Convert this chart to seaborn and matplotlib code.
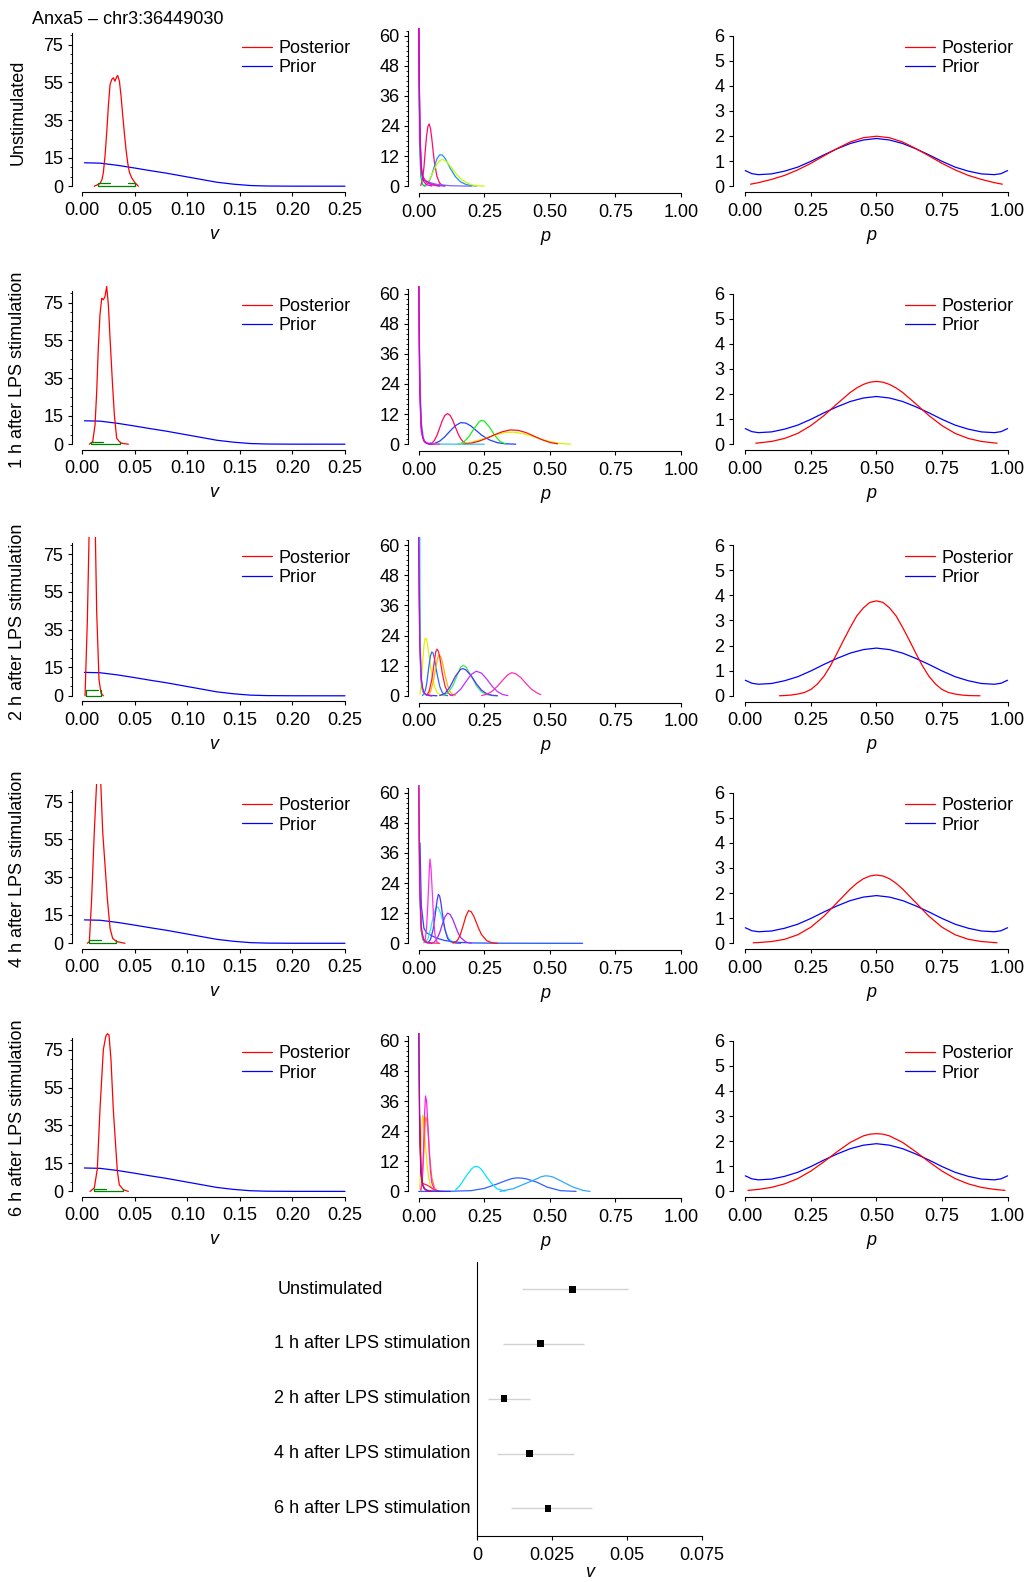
import numpy as np
import pandas as pd
import matplotlib
matplotlib.use("Agg")
import matplotlib.pyplot as plt
from matplotlib.lines import Line2D
from matplotlib.ticker import FixedLocator
import seaborn as sns

# ---------------------------------------------------------------- data
title_text = "Anxa5 \u2013 chr3:36449030"
row_labels = ["Unstimulated", "1 h after LPS stimulation", "2 h after LPS stimulation",
              "4 h after LPS stimulation", "6 h after LPS stimulation"]

v_ticks = [0.00, 0.05, 0.10, 0.15, 0.20, 0.25]
v_tick_labels = ["0.00", "0.05", "0.10", "0.15", "0.20", "0.25"]
v_dens_ticks = [0, 15, 35, 55, 75]
v_dens_minor = [5, 10, 20, 25, 30, 40, 45, 50, 60, 65, 70, 80]
p_ticks = [0.00, 0.25, 0.50, 0.75, 1.00]
p_tick_labels = ["0.00", "0.25", "0.50", "0.75", "1.00"]
p_dens_ticks = [0, 12, 24, 36, 48, 60]
p_dens_minor = [2, 4, 6, 8, 10, 14, 16, 18, 20, 22, 26, 28, 30, 32, 34, 38, 40, 42, 44, 46,
                50, 52, 54, 56, 58, 62]
p_post_ticks = [0, 1, 2, 3, 4, 5, 6]

# prior of v (same in every row)
prior_v_x = [0.002, 0.017, 0.033, 0.049, 0.064, 0.080, 0.096, 0.112, 0.128, 0.144, 0.160, 0.176, 0.200, 0.250]
prior_v_y = [12.4, 12.2, 11.1, 9.7, 8.3, 6.9, 5.3, 3.7, 2.1, 1.06, 0.35, 0.1, 0.02, 0.0]

# posterior of v per row
post_v1_x = [0.0114, 0.0168, 0.0187, 0.0200, 0.0216, 0.0232, 0.0248, 0.0264, 0.0280, 0.0295, 0.0311, 0.0327,
             0.0337, 0.0353, 0.0369, 0.0384, 0.0400, 0.0416, 0.0432, 0.0448, 0.0470, 0.0502, 0.0533]
post_v1_y = [0.0, 1.4, 3.5, 7.1, 15.9, 28.2, 42.4, 53.8, 56.5, 57.4, 55.6, 57.9,
             58.6, 55.6, 47.6, 37.9, 28.2, 19.4, 12.4, 7.4, 4.4, 1.8, 0.0]
post_v2_x = [0.0067, 0.0099, 0.0121, 0.0137, 0.0152, 0.0168, 0.0185, 0.0200, 0.0216, 0.0232, 0.0248, 0.0264,
             0.0286, 0.0305, 0.0327, 0.0352, 0.0375, 0.0438]
post_v2_y = [0.0, 1.4, 10.2, 27.9, 50.8, 68.5, 77.3, 76.5, 78.2, 83.5, 73.8, 56.1,
             33.2, 15.5, 3.2, 1.4, 0.5, 0.0]
post_v3_x = [0.0026, 0.0048, 0.0067, 0.0092, 0.0121, 0.0137, 0.0159, 0.0178, 0.0200]
post_v3_y = [0.0, 40.0, 92.0, 112.0, 95.0, 44.0, 8.5, 1.4, 0.0]
post_v4_x = [0.0048, 0.0067, 0.0089, 0.0114, 0.0137, 0.0155, 0.0175, 0.0194, 0.0216, 0.0238, 0.0264, 0.0289,
             0.0327, 0.0406]
post_v4_y = [0.0, 0.9, 23.8, 59.0, 86.0, 95.0, 86.0, 59.0, 41.5, 23.8, 7.9, 2.6, 0.9, 0.0]
post_v5_x = [0.0073, 0.0114, 0.0143, 0.0168, 0.0200, 0.0223, 0.0238, 0.0254, 0.0273, 0.0295, 0.0333, 0.0352,
             0.0390, 0.0438]
post_v5_y = [0.0, 1.8, 12.0, 43.2, 75.0, 82.0, 83.5, 82.9, 69.7, 43.2, 11.0, 3.5, 0.9, 0.0]

# credible interval of v (also the forest plot)
fp_est = [0.0318, 0.0210, 0.0089, 0.0175, 0.0236]
fp_lo = [0.0148, 0.0087, 0.0036, 0.0067, 0.0113]
fp_hi = [0.0503, 0.0358, 0.0176, 0.0324, 0.0384]
hpd_top_end = [0.0264, 0.0200, 0.0146, 0.0178, 0.0226]
hpd_top_right_start = [0.0438, np.nan, np.nan, np.nan, np.nan]
hpd_height = [1.6, 1.4, 3.0, 1.6, 1.4]

# prior / posterior of p (right column)
prior_p_x = [0.0, 0.025, 0.05, 0.1, 0.15, 0.2, 0.25, 0.3, 0.35, 0.4, 0.45, 0.5,
             0.55, 0.6, 0.65, 0.7, 0.75, 0.8, 0.85, 0.9, 0.95, 0.975, 1.0]
prior_p_y = [0.62, 0.5, 0.46, 0.49, 0.6, 0.76, 0.99, 1.25, 1.49, 1.7, 1.84, 1.9,
             1.84, 1.7, 1.49, 1.25, 0.99, 0.76, 0.6, 0.49, 0.46, 0.5, 0.62]
post_p1_x = [0.02, 0.05, 0.1, 0.15, 0.2, 0.25, 0.3, 0.35, 0.4, 0.45, 0.5, 0.55, 0.6, 0.65, 0.7, 0.75, 0.8,
             0.85, 0.9, 0.95, 0.98]
post_p1_y = [0.08, 0.14, 0.27, 0.43, 0.65, 0.91, 1.21, 1.5, 1.76, 1.93, 1.99, 1.93, 1.76, 1.5, 1.21, 0.91,
             0.65, 0.43, 0.27, 0.14, 0.08]
post_p2_x = [0.04, 0.05, 0.1, 0.15, 0.2, 0.25, 0.3, 0.35, 0.4, 0.425, 0.45, 0.475, 0.5, 0.525, 0.55, 0.575,
             0.6, 0.65, 0.7, 0.75, 0.8, 0.85, 0.9, 0.95, 0.96]
post_p2_y = [0.04, 0.05, 0.11, 0.23, 0.43, 0.74, 1.14, 1.61, 2.06, 2.24, 2.38, 2.47, 2.5, 2.47, 2.38, 2.24,
             2.06, 1.61, 1.14, 0.74, 0.43, 0.23, 0.11, 0.05, 0.04]
post_p3_x = [0.13, 0.15, 0.175, 0.2, 0.225, 0.25, 0.275, 0.3, 0.325, 0.35, 0.375, 0.4, 0.425, 0.45, 0.475,
             0.5, 0.525, 0.55, 0.575, 0.6, 0.625, 0.65, 0.675, 0.7, 0.725, 0.75, 0.775, 0.8, 0.825, 0.85, 0.895]
post_p3_y = [0.0, 0.01, 0.03, 0.07, 0.13, 0.25, 0.47, 0.78, 1.2, 1.7, 2.22, 2.72, 3.18, 3.5, 3.72,
             3.78, 3.72, 3.5, 3.18, 2.72, 2.22, 1.7, 1.2, 0.78, 0.47, 0.25, 0.13, 0.07, 0.03, 0.01, 0.0]
post_p4_x = [0.03, 0.05, 0.1, 0.15, 0.2, 0.25, 0.3, 0.35, 0.4, 0.425, 0.45, 0.475, 0.5, 0.525, 0.55, 0.575,
             0.6, 0.65, 0.7, 0.75, 0.8, 0.85, 0.9, 0.95, 0.96]
post_p4_y = [0.02, 0.03, 0.07, 0.16, 0.34, 0.64, 1.08, 1.62, 2.16, 2.39, 2.57, 2.68, 2.72, 2.68, 2.57, 2.39,
             2.16, 1.62, 1.08, 0.64, 0.34, 0.16, 0.07, 0.03, 0.02]
post_p5_x = [0.01, 0.05, 0.1, 0.15, 0.2, 0.25, 0.3, 0.35, 0.4, 0.45, 0.475, 0.5, 0.525, 0.55, 0.6, 0.65, 0.7,
             0.75, 0.8, 0.85, 0.9, 0.95, 0.99]
post_p5_y = [0.04, 0.08, 0.16, 0.3, 0.51, 0.81, 1.18, 1.58, 1.95, 2.21, 2.28, 2.3, 2.28, 2.21, 1.95, 1.58,
             1.18, 0.81, 0.51, 0.3, 0.16, 0.08, 0.04]

# middle column: per-cell densities of p
# row 1
m1_pinkred_x = [0.008, 0.015, 0.020, 0.025, 0.030, 0.035, 0.040, 0.045, 0.050, 0.055, 0.060, 0.070, 0.080, 0.090, 0.100]
m1_pinkred_y = [0.3, 3.0, 7.5, 14.0, 20.0, 23.8, 24.8, 23.0, 19.0, 14.0, 9.5, 3.8, 1.2, 0.4, 0.1]
m1_blue_x = [0.020, 0.030, 0.040, 0.050, 0.060, 0.070, 0.080, 0.090, 0.100, 0.110, 0.120, 0.140, 0.160, 0.180, 0.200, 0.220]
m1_blue_y = [0.1, 0.6, 2.0, 4.5, 8.0, 11.0, 12.5, 12.4, 11.2, 9.3, 7.2, 3.8, 1.7, 0.7, 0.25, 0.05]
m1_lime_x = [0.020, 0.030, 0.040, 0.050, 0.060, 0.070, 0.080, 0.090, 0.100, 0.110, 0.120, 0.140, 0.160, 0.180, 0.200, 0.220, 0.250]
m1_lime_y = [0.2, 1.0, 2.5, 4.5, 6.8, 8.8, 10.2, 10.6, 10.3, 9.4, 8.0, 5.2, 3.0, 1.5, 0.6, 0.2, 0.02]
m1_green_x = [0.0, 0.003, 0.008, 0.015, 0.025]
m1_green_y = [60, 18, 4, 0.6, 0]
m1_violet_x = [0.0, 0.004, 0.008, 0.015, 0.025, 0.040, 0.070, 0.120, 0.200]
m1_violet_y = [66, 26, 9, 3.8, 2.3, 1.5, 0.7, 0.2, 0.0]
m1_purple_x = [0.0, 0.003, 0.007, 0.012, 0.020, 0.030, 0.045, 0.070, 0.100]
m1_purple_y = [70, 32, 11, 4.5, 2.6, 2.0, 1.0, 0.3, 0.05]
m1_pink_x = [0.0, 0.004, 0.010, 0.020, 0.030, 0.050, 0.080]
m1_pink_y = [65, 24, 6, 3, 1.5, 0.5, 0.0]
m1_magenta_x = [0.0, 0.002, 0.005, 0.010, 0.015, 0.020, 0.030, 0.050]
m1_magenta_y = [80, 45, 20, 8, 3.5, 1.8, 0.6, 0.1]
# row 2
m2_crimson_x = [0.040, 0.050, 0.060, 0.070, 0.080, 0.090, 0.100, 0.110, 0.120, 0.130, 0.140, 0.150, 0.160, 0.170, 0.190]
m2_crimson_y = [0.05, 0.4, 1.5, 3.6, 6.5, 9.4, 11.5, 12.2, 11.5, 9.5, 6.8, 4.2, 2.2, 0.9, 0.1]
m2_blue_x = [0.040, 0.060, 0.080, 0.100, 0.120, 0.140, 0.160, 0.180, 0.200, 0.220, 0.240, 0.270, 0.300, 0.330, 0.370]
m2_blue_y = [0.05, 0.3, 1.2, 3.0, 5.3, 7.4, 8.6, 8.4, 7.2, 5.4, 3.6, 1.7, 0.6, 0.15, 0.02]
m2_green_x = [0.150, 0.170, 0.190, 0.210, 0.230, 0.240, 0.250, 0.270, 0.290, 0.310, 0.330]
m2_green_y = [0.05, 0.7, 2.8, 6.0, 8.9, 9.5, 9.2, 6.8, 3.5, 1.1, 0.2]
m2_yellow_x = [0.150, 0.200, 0.250, 0.300, 0.330, 0.360, 0.400, 0.440, 0.480, 0.520, 0.550, 0.580]
m2_yellow_y = [0.05, 0.8, 2.2, 3.9, 4.7, 4.8, 4.2, 2.9, 1.6, 0.6, 0.2, 0.02]
m2_red_x = [0.170, 0.200, 0.230, 0.260, 0.290, 0.320, 0.350, 0.380, 0.410, 0.440, 0.470, 0.500, 0.530]
m2_red_y = [0.05, 0.4, 1.2, 2.4, 3.8, 5.0, 5.7, 5.5, 4.6, 3.2, 1.8, 0.7, 0.15]
m2_cyan_x = [0.0, 0.004, 0.010, 0.018, 0.025, 0.035, 0.045, 0.060, 0.250]
m2_cyan_y = [70, 30, 9, 2.5, 0.8, 0.1, 0.6, 0.05, 0.0]
m2_purple_x = [0.0, 0.003, 0.008, 0.015, 0.025, 0.040, 0.060]
m2_purple_y = [68, 30, 8, 2.5, 0.8, 0.2, 0.0]
m2_pink_x = [0.0, 0.004, 0.010, 0.020, 0.030, 0.050, 0.080]
m2_pink_y = [64, 22, 5, 1.5, 0.4, 0.1, 0.0]
m2_magenta_x = [0.0, 0.002, 0.005, 0.010, 0.015, 0.020, 0.030, 0.050]
m2_magenta_y = [80, 45, 20, 7, 3, 1.2, 0.3, 0.0]
# row 3
m3_yellow_x = [0.005, 0.010, 0.015, 0.020, 0.025, 0.030, 0.035, 0.040, 0.050, 0.060, 0.070, 0.080, 0.090, 0.100]
m3_yellow_y = [0.5, 5, 13, 20, 23, 22.5, 19.5, 15.5, 8.5, 3.8, 1.4, 0.5, 0.15, 0.03]
m3_blue_x = [0.015, 0.025, 0.030, 0.035, 0.040, 0.045, 0.050, 0.055, 0.060, 0.070, 0.080, 0.090, 0.100, 0.110]
m3_blue_y = [0.1, 2, 4.5, 8.5, 12.5, 16, 17.5, 17, 14.8, 8.8, 3.8, 1.3, 0.35, 0.05]
m3_red_x = [0.030, 0.040, 0.050, 0.055, 0.060, 0.065, 0.070, 0.075, 0.080, 0.090, 0.100, 0.110, 0.120, 0.130]
m3_red_y = [0.2, 1.8, 6.5, 10, 14, 17.5, 18.6, 17.8, 15.5, 9, 4, 1.4, 0.4, 0.05]
m3_orange_x = [0.035, 0.045, 0.055, 0.065, 0.070, 0.075, 0.080, 0.085, 0.090, 0.100, 0.110, 0.120, 0.130, 0.140]
m3_orange_y = [0.2, 1.6, 5.5, 11, 14, 16, 16.2, 15.3, 13.5, 8.5, 4.2, 1.6, 0.5, 0.1]
m3_green_x = [0.090, 0.110, 0.130, 0.150, 0.160, 0.170, 0.180, 0.200, 0.220, 0.240, 0.260, 0.280, 0.300]
m3_green_y = [0.1, 1, 4, 9, 11.5, 12.1, 11.5, 8, 4, 1.5, 0.45, 0.1, 0.02]
m3_indigo_x = [0.080, 0.100, 0.120, 0.140, 0.160, 0.170, 0.180, 0.200, 0.220, 0.240, 0.260, 0.280, 0.300]
m3_indigo_y = [0.1, 0.9, 3.7, 7.8, 10.6, 10.8, 10.3, 8, 4.8, 2.2, 0.8, 0.2, 0.03]
m3_violet_x = [0.120, 0.140, 0.160, 0.180, 0.200, 0.220, 0.240, 0.260, 0.280, 0.300, 0.320, 0.340]
m3_violet_y = [0.1, 0.7, 2.6, 5.6, 8.5, 9.8, 9, 6.6, 3.8, 1.7, 0.5, 0.1]
m3_pink_x = [0.240, 0.260, 0.280, 0.300, 0.320, 0.340, 0.355, 0.370, 0.390, 0.410, 0.430, 0.450, 0.465]
m3_pink_y = [0.1, 0.6, 1.8, 3.8, 6.2, 8.4, 9.2, 8.8, 7.2, 4.8, 2.6, 1.2, 0.5]
m3_orangespike_x = [0.0, 0.004, 0.010, 0.020, 0.030, 0.050]
m3_orangespike_y = [60, 20, 5, 1.2, 0.3, 0]
m3_bluespike_x = [0.0, 0.003, 0.008, 0.015, 0.025, 0.040, 0.070]
m3_bluespike_y = [70, 30, 8, 2, 0.6, 0.2, 0]
m3_teal_x = [0.004, 0.005, 0.007, 0.010, 0.015, 0.020, 0.030, 0.050]
m3_teal_y = [80, 45, 18, 6, 2, 0.8, 0.2, 0]
m3_magenta_x = [0.0, 0.002, 0.005, 0.010, 0.015, 0.020, 0.030, 0.050]
m3_magenta_y = [80, 45, 20, 7, 3, 1.2, 0.3, 0]
# row 4
m4_maghump_x = [0.020, 0.025, 0.030, 0.035, 0.040, 0.043, 0.047, 0.052, 0.057, 0.062, 0.068, 0.075]
m4_maghump_y = [0.2, 1.5, 6, 16, 28, 33.6, 30, 20, 9.5, 3.5, 0.8, 0.1]
m4_indigo_x = [0.035, 0.045, 0.055, 0.060, 0.065, 0.070, 0.075, 0.080, 0.085, 0.090, 0.100, 0.110, 0.120, 0.140, 0.160]
m4_indigo_y = [0.2, 1.5, 5.5, 9, 13, 17, 19.5, 18.8, 16, 12, 5.5, 2, 0.7, 0.15, 0.03]
m4_aqua_x = [0.025, 0.035, 0.045, 0.055, 0.065, 0.070, 0.075, 0.085, 0.095, 0.105, 0.115, 0.130, 0.150]
m4_aqua_y = [0.3, 1.8, 5.5, 10.5, 14, 14.6, 14.2, 11.5, 7.5, 4, 1.8, 0.5, 0.1]
m4_purple_x = [0.050, 0.060, 0.070, 0.080, 0.090, 0.100, 0.110, 0.120, 0.130, 0.140, 0.150, 0.160, 0.180, 0.200]
m4_purple_y = [0.1, 0.5, 1.8, 4.2, 7.5, 10.5, 12, 11.5, 9.5, 6.8, 4.2, 2.3, 0.5, 0.05]
m4_red_x = [0.130, 0.140, 0.150, 0.160, 0.170, 0.180, 0.190, 0.200, 0.210, 0.220, 0.230, 0.240, 0.260, 0.280, 0.300]
m4_red_y = [0.1, 0.4, 1.5, 3.8, 7.2, 10.8, 13, 12.6, 10.8, 8.2, 5.6, 3.4, 1, 0.2, 0.02]
m4_blue_x = [0.005, 0.010, 0.020, 0.030, 0.050, 0.070, 0.100, 0.150, 0.200, 0.300, 0.450, 0.625]
m4_blue_y = [40, 15, 6, 4.2, 3, 2, 1.1, 0.4, 0.15, 0.05, 0.02, 0.0]
m4_green_x = [0.0, 0.003, 0.008, 0.015, 0.025, 0.040]
m4_green_y = [65, 25, 6, 1.5, 0.4, 0]
m4_redspike_x = [0.0, 0.004, 0.010, 0.020, 0.030, 0.050, 0.080]
m4_redspike_y = [62, 22, 5, 1.5, 0.5, 0.1, 0]
m4_magenta_x = [0.0, 0.002, 0.005, 0.010, 0.015, 0.020, 0.030, 0.050]
m4_magenta_y = [80, 45, 20, 7, 3, 1.2, 0.3, 0]
# row 5
m5_cyan_x = [0.1386, 0.1576, 0.1830, 0.2021, 0.2117, 0.2212, 0.2307, 0.2403, 0.2593, 0.2784, 0.2974, 0.3292]
m5_cyan_y = [0.4, 2.4, 6.4, 9.0, 9.8, 10.0, 9.6, 8.6, 5.7, 3.1, 1.1, 0.1]
m5_blue_x = [0.000, 0.100, 0.200, 0.250, 0.300, 0.335, 0.355, 0.374, 0.392, 0.411, 0.450, 0.490, 0.540, 0.600]
m5_blue_y = [0, 0, 0.3, 1.2, 3.0, 4.4, 5.1, 5.4, 5.3, 5.0, 3.7, 1.7, 0.3, 0]
m5_sky_x = [0.310, 0.361, 0.411, 0.450, 0.466, 0.482, 0.497, 0.513, 0.551, 0.589, 0.627, 0.653]
m5_sky_y = [0.0, 1.1, 3.3, 5.0, 5.8, 6.2, 6.1, 5.7, 3.7, 1.7, 0.4, 0.0]
m5_yellow_x = [0.004, 0.008, 0.012, 0.015, 0.018, 0.022, 0.027, 0.032, 0.038, 0.045, 0.055, 0.065]
m5_yellow_y = [1, 10, 25, 30.3, 29, 24, 17, 10.5, 5.5, 2.2, 0.5, 0.05]
m5_orange_x = [0.008, 0.013, 0.018, 0.023, 0.027, 0.032, 0.037, 0.042, 0.050, 0.060, 0.070, 0.080]
m5_orange_y = [0.3, 3, 12, 24, 29.6, 28, 22, 14, 5.5, 1.5, 0.3, 0.05]
m5_maghump_x = [0.008, 0.013, 0.018, 0.022, 0.026, 0.030, 0.035, 0.040, 0.045, 0.050, 0.060, 0.070]
m5_maghump_y = [0.5, 4, 15, 30, 38, 36, 27, 16, 8, 3.5, 0.6, 0.1]
m5_red_x = [0.004, 0.008, 0.012, 0.016, 0.020, 0.030, 0.040, 0.050, 0.060, 0.080, 0.100]
m5_red_y = [30, 8, 4, 3.2, 3.0, 2.6, 2, 1.3, 0.6, 0.1, 0]
m5_bluespike_x = [0.0, 0.003, 0.008, 0.015, 0.025, 0.040, 0.070, 0.120]
m5_bluespike_y = [68, 30, 8, 2.5, 0.8, 0.2, 0.05, 0]
m5_magenta_x = [0.0, 0.002, 0.005, 0.010, 0.015, 0.020, 0.030, 0.050]
m5_magenta_y = [80, 45, 20, 7, 3, 1.2, 0.3, 0]

# forest plot axis
fp_ticks = [0, 0.025, 0.05, 0.075]
fp_tick_labels = ["0", "0.025", "0.05", "0.075"]

# ---------------------------------------------------------------- tables
post_v = [(post_v1_x, post_v1_y), (post_v2_x, post_v2_y), (post_v3_x, post_v3_y),
          (post_v4_x, post_v4_y), (post_v5_x, post_v5_y)]
post_p = [(post_p1_x, post_p1_y), (post_p2_x, post_p2_y), (post_p3_x, post_p3_y),
          (post_p4_x, post_p4_y), (post_p5_x, post_p5_y)]
mid_curves = [
    [("pinkred", "#ff0a6c", m1_pinkred_x, m1_pinkred_y), ("blue", "#1f8fff", m1_blue_x, m1_blue_y),
     ("lime", "#bfff00", m1_lime_x, m1_lime_y), ("green", "#00cc55", m1_green_x, m1_green_y),
     ("violet", "#7b68ee", m1_violet_x, m1_violet_y), ("purple", "#9b30ff", m1_purple_x, m1_purple_y),
     ("pink", "#ff1493", m1_pink_x, m1_pink_y), ("magenta", "#d400d4", m1_magenta_x, m1_magenta_y)],
    [("blue", "#2040ff", m2_blue_x, m2_blue_y), ("crimson", "#ff0a5a", m2_crimson_x, m2_crimson_y),
     ("green", "#1aee1a", m2_green_x, m2_green_y), ("yellow", "#d8f000", m2_yellow_x, m2_yellow_y),
     ("red", "#ff1010", m2_red_x, m2_red_y), ("cyan", "#30c0ff", m2_cyan_x, m2_cyan_y),
     ("purple", "#9933ff", m2_purple_x, m2_purple_y), ("pink", "#ff3399", m2_pink_x, m2_pink_y),
     ("magenta", "#d400d4", m2_magenta_x, m2_magenta_y)],
    [("yellow", "#e0f000", m3_yellow_x, m3_yellow_y), ("blue", "#2a6bff", m3_blue_x, m3_blue_y),
     ("orange", "#ffb000", m3_orange_x, m3_orange_y), ("red", "#ff1a3c", m3_red_x, m3_red_y),
     ("green", "#30ee60", m3_green_x, m3_green_y), ("indigo", "#5a30ff", m3_indigo_x, m3_indigo_y),
     ("violet", "#bb33ff", m3_violet_x, m3_violet_y), ("pink", "#ff30b0", m3_pink_x, m3_pink_y),
     ("orangespike", "#ff8800", m3_orangespike_x, m3_orangespike_y),
     ("bluespike", "#3333ff", m3_bluespike_x, m3_bluespike_y), ("teal", "#30e8d0", m3_teal_x, m3_teal_y),
     ("magenta", "#cc00ee", m3_magenta_x, m3_magenta_y)],
    [("blue", "#1a50ff", m4_blue_x, m4_blue_y), ("aqua", "#20f0d8", m4_aqua_x, m4_aqua_y),
     ("indigo", "#5530ff", m4_indigo_x, m4_indigo_y), ("purple", "#aa22ff", m4_purple_x, m4_purple_y),
     ("red", "#ff1010", m4_red_x, m4_red_y), ("maghump", "#ff30f0", m4_maghump_x, m4_maghump_y),
     ("green", "#33dd33", m4_green_x, m4_green_y), ("redspike", "#ff3366", m4_redspike_x, m4_redspike_y),
     ("magenta", "#e000c8", m4_magenta_x, m4_magenta_y)],
    [("blue", "#3060ff", m5_blue_x, m5_blue_y), ("cyan", "#00e5ff", m5_cyan_x, m5_cyan_y),
     ("sky", "#30aaff", m5_sky_x, m5_sky_y), ("yellow", "#e8e800", m5_yellow_x, m5_yellow_y),
     ("orange", "#ff8c00", m5_orange_x, m5_orange_y), ("red", "#ff2255", m5_red_x, m5_red_y),
     ("maghump", "#ff20e0", m5_maghump_x, m5_maghump_y),
     ("bluespike", "#2233ff", m5_bluespike_x, m5_bluespike_y),
     ("magenta", "#d0007a", m5_magenta_x, m5_magenta_y)],
]

# ---------------------------------------------------------------- style
sns.set_style("ticks", rc={"axes.edgecolor": "black", "xtick.color": "black", "ytick.color": "black",
                           "text.color": "black", "axes.labelcolor": "black"})
plt.rcParams["font.family"] = ["Liberation Sans", "DejaVu Sans"]

W, H = 1025, 1582
fig = plt.figure(figsize=(W / 100, H / 100), dpi=100)
fig.patch.set_facecolor("white")
FS = 13


def px_axes(l, t, r, b):
    return fig.add_axes([l / W, 1 - b / H, (r - l) / W, (b - t) / H])


def style_axes(ax, xb, yb, xticks, xlabels, yticks, yminor, xlabel):
    ax.spines["top"].set_visible(False)
    ax.spines["right"].set_visible(False)
    ax.spines["left"].set_bounds(*yb)
    ax.spines["bottom"].set_bounds(*xb)
    for s in ("left", "bottom"):
        ax.spines[s].set_linewidth(0.8)
    ax.set_xticks(xticks)
    ax.set_xticklabels(xlabels)
    ax.set_yticks(yticks)
    ax.set_yticklabels([str(t) for t in yticks])
    if yminor:
        ax.yaxis.set_minor_locator(FixedLocator(yminor))
    ax.tick_params(axis="x", which="major", length=2.9, width=0.8, pad=4.6, labelsize=FS)
    ax.tick_params(axis="y", which="major", length=2.9, width=0.8, pad=3.2, labelsize=FS)
    ax.tick_params(axis="y", which="minor", length=1.6, width=0.6)
    ax.set_xlabel(xlabel, fontsize=FS, style="italic", labelpad=5)
    ax.set_ylabel("")
    ax.patch.set_alpha(0)


def add_legend(ax, x_px, y0):
    handles = [Line2D([], [], color="#ff0000", lw=0.9), Line2D([], [], color="#0000ff", lw=0.9)]
    ax.legend(handles, ["Posterior", "Prior"], loc="center left",
              bbox_to_anchor=(x_px / W, 1 - (y0 - 128.0) / H), bbox_transform=fig.transFigure,
              frameon=False, borderpad=0, borderaxespad=0, handlelength=1.65, handletextpad=0.35,
              labelspacing=0.14, fontsize=FS)


row_zero_px = [186.2, 444.2, 695.8, 943.3, 1191.4]

fig.text(32 / W, 1 - 20 / H, title_text, fontsize=FS, ha="left", va="center")

for i in range(5):
    y0 = row_zero_px[i]
    fig.text(18 / W, 1 - (y0 - 74) / H, row_labels[i], rotation=90, fontsize=FS, ha="center", va="center")

    # ---- left: density of v
    axL = px_axes(71.7, y0 - 159.2, 355.5, y0 + 5.59)
    pvx, pvy = post_v[i]
    dfL = pd.concat([pd.DataFrame({"v": prior_v_x, "density": prior_v_y, "curve": "Prior"}),
                     pd.DataFrame({"v": pvx, "density": pvy, "curve": "Posterior"})], ignore_index=True)
    sns.lineplot(data=dfL, x="v", y="density", hue="curve", hue_order=["Prior", "Posterior"],
                 palette={"Prior": "#0000ff", "Posterior": "#ff0000"}, estimator=None, sort=False,
                 legend=False, lw=0.9, ax=axL)
    h = hpd_height[i]
    axL.plot([hpd_top_end[i], fp_lo[i], fp_lo[i], fp_hi[i], fp_hi[i]], [h, h, 0, 0, h],
             color="#008000", lw=0.9)
    if not np.isnan(hpd_top_right_start[i]):
        axL.plot([hpd_top_right_start[i], fp_hi[i]], [h, h], color="#008000", lw=0.9)
    axL.set_xlim(-0.0101, 0.26)
    axL.set_ylim(-2.96, 84.3)
    style_axes(axL, (0, 0.25), (0, 81), v_ticks, v_tick_labels, v_dens_ticks, v_dens_minor, "v")
    add_legend(axL, 242, y0)

    # ---- middle: per-cell densities of p
    axM = px_axes(408.3, y0 - 158.6, 683.6, y0 + 7.03)
    frames = [pd.DataFrame({"p": cx, "density": cy, "curve": name}) for name, col, cx, cy in mid_curves[i]]
    dfM = pd.concat(frames, ignore_index=True)
    sns.lineplot(data=dfM, x="p", y="density", hue="curve",
                 hue_order=[c[0] for c in mid_curves[i]],
                 palette={c[0]: c[1] for c in mid_curves[i]}, estimator=None, sort=False,
                 legend=False, lw=0.9, ax=axM)
    axM.set_xlim(-0.0396, 1.01)
    axM.set_ylim(-2.8, 63.2)
    style_axes(axM, (0, 1), (0, 62), p_ticks, p_tick_labels, p_dens_ticks, p_dens_minor, "p")

    # ---- right: prior / posterior of p
    axR = px_axes(732.7, y0 - 151.9, 1010.2, y0 + 6.02)
    ppx, ppy = post_p[i]
    dfR = pd.concat([pd.DataFrame({"p": prior_p_x, "density": prior_p_y, "curve": "Prior"}),
                     pd.DataFrame({"p": ppx, "density": ppy, "curve": "Posterior"})], ignore_index=True)
    sns.lineplot(data=dfR, x="p", y="density", hue="curve", hue_order=["Prior", "Posterior"],
                 palette={"Prior": "#0000ff", "Posterior": "#ff0000"}, estimator=None, sort=False,
                 legend=False, lw=0.9, ax=axR)
    axR.set_xlim(-0.048, 1.01)
    axR.set_ylim(-0.24, 6.05)
    style_axes(axR, (0, 1), (0, 6), p_ticks, p_tick_labels, p_post_ticks, None, "p")
    add_legend(axR, 905, y0)

# ---- bottom: forest plot of v
axF = px_axes(477.3, 1261.7, 701.7, 1535.7)
fp_pos = list(range(len(row_labels)))
axF.hlines(fp_pos, fp_lo, fp_hi, color="#d2d2d2", lw=1.0)
sns.scatterplot(x=fp_est, y=fp_pos, marker="s", color="black", s=24, edgecolor="none", ax=axF, zorder=3)
axF.set_xlim(0, 0.075)
axF.set_ylim(4.5, -0.5)
axF.spines["top"].set_visible(False)
axF.spines["right"].set_visible(False)
for s in ("left", "bottom"):
    axF.spines[s].set_linewidth(0.8)
axF.set_yticks([])
axF.set_xticks(fp_ticks)
axF.set_xticklabels(fp_tick_labels)
axF.tick_params(axis="x", length=2.9, width=0.8, pad=5.0, labelsize=FS)
axF.set_xlabel("v", fontsize=FS, style="italic", labelpad=0)
axF.set_ylabel("")
tr = axF.get_yaxis_transform()
for k, lab in enumerate(row_labels):
    if k == 0:
        axF.text(-0.888, fp_pos[k], lab, transform=tr, ha="left", va="center", fontsize=FS)
    else:
        axF.text(-0.0325, fp_pos[k], lab, transform=tr, ha="right", va="center", fontsize=FS)

fig.savefig("out.png", dpi=100, facecolor="white")
